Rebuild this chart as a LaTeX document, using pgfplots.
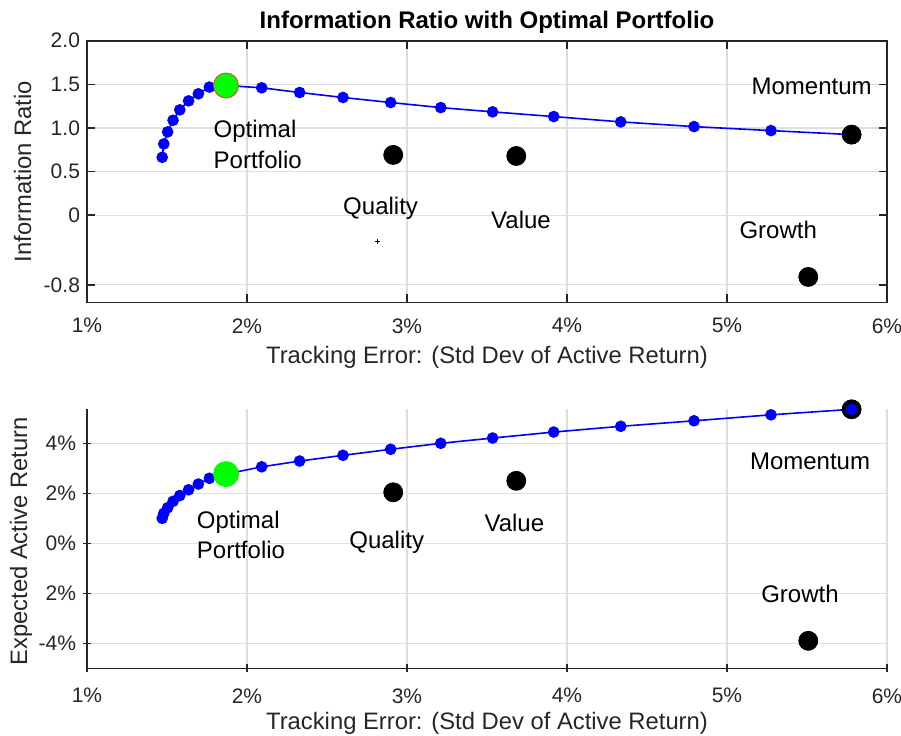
\documentclass[border=0pt]{standalone}
\usepackage{pgfplots}
\pgfplotsset{compat=1.18}
\usepackage{fontspec}
\setmainfont{Liberation Sans}
\definecolor{axgray}{RGB}{38,38,38}
\definecolor{gridgray}{RGB}{222,222,222}
\definecolor{mblue}{RGB}{0,0,255}
\definecolor{mgreen}{RGB}{0,255,0}
\definecolor{medge}{RGB}{225,80,40}

\pgfplotstableread{
x y
1.470 0.663
1.480 0.816
1.504 0.954
1.538 1.088
1.580 1.207
1.635 1.310
1.696 1.391
1.765 1.468
1.869 1.486
2.092 1.460
2.329 1.406
2.600 1.349
2.898 1.291
3.211 1.233
3.535 1.184
3.917 1.130
4.336 1.069
4.794 1.015
5.275 0.969
5.779 0.923
}\frontIR

\pgfplotstableread{
x y
1.470 1.00
1.480 1.20
1.504 1.42
1.538 1.68
1.580 1.91
1.635 2.14
1.696 2.37
1.765 2.60
1.869 2.77
2.092 3.06
2.329 3.29
2.600 3.52
2.898 3.76
3.211 4.00
3.535 4.21
3.917 4.45
4.336 4.68
4.794 4.90
5.275 5.14
5.779 5.36
}\frontRet

\tikzset{annot/.style={font=\fontsize{12}{15.35}\selectfont, text=black, align=left}}

\pgfplotsset{
  mystyle/.style={
    scale only axis,
    width=400pt,
    xmin=1, xmax=6,
    xtick={1,2,3,4,5,6},
    xticklabels={1\%,2\%,3\%,4\%,5\%,6\%},
    tick align=inside,
    major tick length=4pt,
    grid=major,
    major grid style={gridgray, line width=0.6pt},
    axis line style={axgray, line width=0.8pt},
    tick style={axgray, line width=0.8pt},
    tick label style={font=\fontsize{10.5}{12}\selectfont, text=axgray},
    xticklabel style={yshift=-4.5pt},
    label style={font=\fontsize{11.9}{13}\selectfont, text=axgray},
    every axis title shift=0pt,
    /pgf/number format/assume math mode=true,
    clip=false,
  },
}

\begin{document}
\begin{tikzpicture}
\useasboundingbox (-43.5pt,-216.35pt) rectangle (407pt,151.15pt);

% ---------- top axis ----------
\begin{axis}[mystyle,
  at={(0pt,0pt)}, anchor=south west,
  height=130.8pt,
  ymin=-1, ymax=2,
  ytick={-0.8,0,0.5,1,1.5,2},
  yticklabels={-0.8,0,0.5,1.0,1.5,2.0},
  title={\bfseries Information Ratio with Optimal Portfolio},
  title style={at={(axis description cs:0.5,1.0715)}, anchor=center, font=\fontsize{12}{14}\selectfont, text=black},
  xlabel={Tracking Error: (Std Dev of Active Return)},
  xlabel style={at={(axis description cs:0.5,-0.209)}, anchor=center},
  ylabel={Information Ratio},
  ylabel style={at={(axis description cs:-0.0804,0.5)}, anchor=center},
]
\addplot[mblue, line width=0.8pt, mark=*, mark size=2.5pt, mark options={fill=mblue, draw=mblue}] table[x=x,y=y] {\frontIR};
\addplot[only marks, mark=*, mark size=6.25pt, mark options={fill=mgreen, draw=medge, line width=0.5pt}] coordinates {(1.869,1.486)};
\addplot[only marks, mark=*, mark size=4.75pt, mark options={fill=black, draw=black}] coordinates {(2.914,0.69) (3.683,0.678) (5.508,-0.709) (5.779,0.923)};
\addplot[only marks, mark=+, mark size=1.3pt, mark options={draw=black, line width=0.5pt}] coordinates {(2.817,-0.299)};
\node[annot] at (axis cs:2.067,0.808) {Optimal\\Portfolio};
\node[annot] at (axis cs:2.835,0.077) {Quality};
\node[annot] at (axis cs:3.7125,-0.05) {Value};
\node[annot] at (axis cs:5.32,-0.172) {Growth};
\node[annot] at (axis cs:5.529,1.475) {Momentum};
\end{axis}

% ---------- bottom axis ----------
\begin{axis}[mystyle,
  at={(0pt,-183pt)}, anchor=south west,
  height=129.5pt,
  ymin=-5, ymax=5.36,
  axis lines=left,
  axis line style={-},
  ytick={-4,-2,0,2,4},
  yticklabels={-4\%,2\%,0\%,2\%,4\%},
  xlabel={Tracking Error: (Std Dev of Active Return)},
  xlabel style={at={(axis description cs:0.5,-0.213)}, anchor=center},
  ylabel={Expected Active Return},
  ylabel style={at={(axis description cs:-0.0825,0.49)}, anchor=center},
]
\addplot[only marks, mark=*, mark size=4.75pt, mark options={fill=black, draw=black}] coordinates {(2.914,2.04) (3.683,2.50) (5.508,-3.90) (5.779,5.36)};
\addplot[mblue, line width=0.8pt, mark=*, mark size=2.5pt, mark options={fill=mblue, draw=mblue}] table[x=x,y=y] {\frontRet};
\addplot[only marks, mark=*, mark size=6.25pt, mark options={fill=mgreen, draw=mgreen}] coordinates {(1.869,2.77)};
\node[annot] at (axis cs:1.9625,0.33) {Optimal\\Portfolio};
\node[annot] at (axis cs:2.873,0.04) {Quality};
\node[annot] at (axis cs:3.671,0.80) {Value};
\node[annot] at (axis cs:5.519,3.26) {Momentum};
\node[annot] at (axis cs:5.456,-2.04) {Growth};
\end{axis}
\end{tikzpicture}
\end{document}
